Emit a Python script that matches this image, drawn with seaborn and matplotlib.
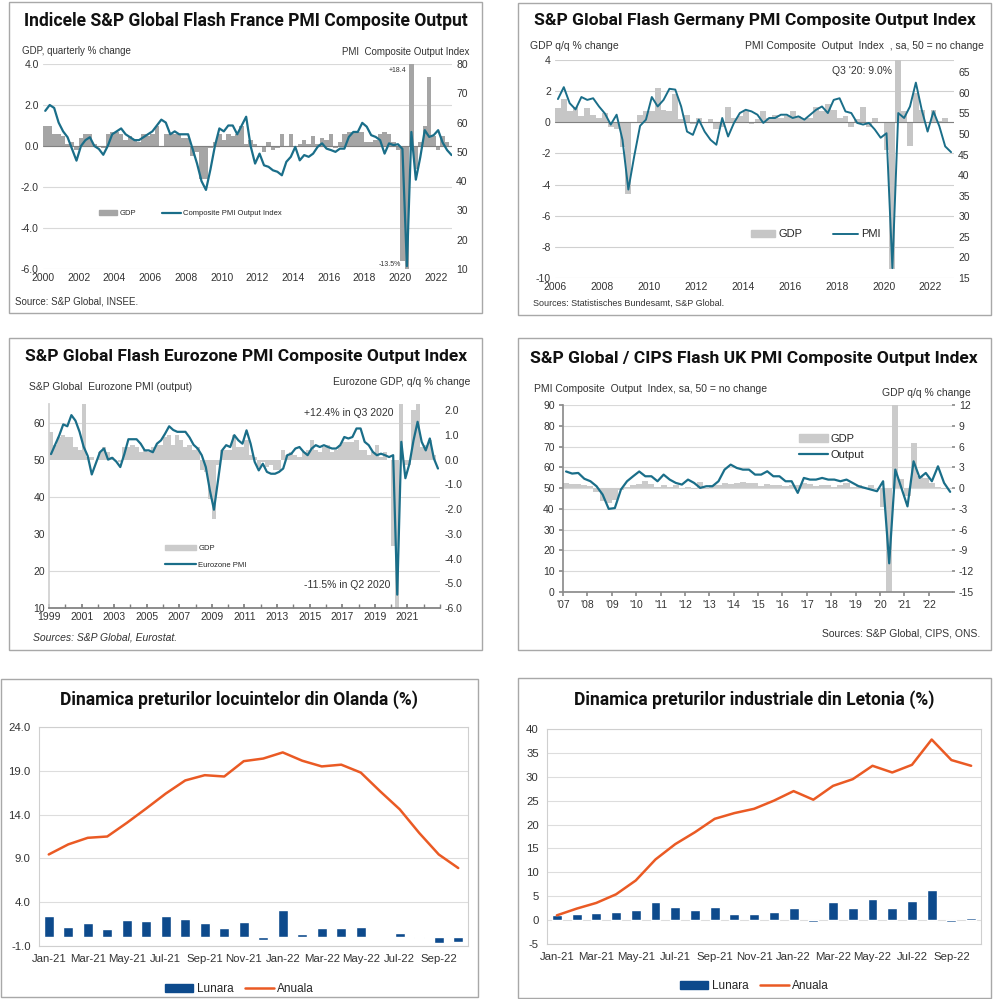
import matplotlib
matplotlib.use("Agg")

import numpy as np
import matplotlib.pyplot as plt
import seaborn as sns
from matplotlib.patches import Rectangle, Patch
from matplotlib.lines import Line2D
from matplotlib.ticker import FormatStrFormatter

# -----------------------------
# DATA
# -----------------------------
# France: quarterly GDP % change from 2000Q1, PMI composite sampled per quarter
FRA_GDP = [1.0, 1.0, 0.6, 0.6, 0.5, 0.1, 0.2, -0.2, 0.4, 0.6, 0.6, 0.1,
           0.0, -0.1, 0.6, 0.7, 0.7, 0.6, 0.3, 0.5, 0.3, 0.2, 0.6, 0.5,
           0.6, 1.0, 0.0, 0.6, 0.6, 0.6, 0.6, 0.4, 0.4, -0.5, -0.3, -1.6,
           -1.6, -0.1, 0.2, 0.6, 0.3, 0.6, 0.5, 0.6, 1.0, 0.1, 0.3, 0.1,
           0.0, -0.3, 0.2, -0.2, -0.1, 0.6, 0.0, 0.6, 0.0, 0.1, 0.3, 0.1,
           0.5, 0.1, 0.4, 0.3, 0.6, -0.1, 0.2, 0.6, 0.7, 0.7, 0.7, 0.7,
           0.2, 0.2, 0.3, 0.6, 0.7, 0.6, 0.2, -0.2, -5.6, -13.5, 18.4, -1.1,
           0.2, 1.0, 3.35, 0.5, -0.2, 0.5, 0.2]
FRA_PMI = [64, 66, 65, 60, 57, 55, 51, 47, 52, 54, 55, 52,
           51, 49, 52, 56, 57, 58, 56, 55, 54, 54, 55, 56,
           57, 59, 61, 60, 56, 57, 56, 56, 56, 51, 46, 40,
           37, 44, 52, 58, 57, 59, 59, 56, 59, 62, 52, 46,
           49.4, 45.4, 44.9, 43.7, 43.2, 42, 46.6, 48.3, 51.7, 47.1, 48.9, 48.3,
           49.4, 51.7, 52.9, 51.1, 50.6, 50, 51.1, 51.1, 55.1, 56.8, 56.8, 59.9,
           58.6, 55.7, 55.1, 54, 49.4, 52.9, 52.3, 52.6, 51, 11, 56.8, 40.5,
           48.2, 57.4, 55.1, 55.7, 57.4, 53.2, 50.6, 48.9]

# Germany from 2006Q1
DEU_GDP = [0.9, 1.5, 0.7, 1.0, 0.4, 0.9, 0.5, 0.3, 0.6, -0.3, -0.4, -1.6,
           -4.6, 0.0, 0.5, 0.7, 0.7, 2.2, 0.8, 0.7, 1.8, 0.2, 0.5, -0.1,
           0.3, 0.0, 0.2, -0.4, -0.3, 1.0, 0.3, 0.4, 0.8, -0.1, 0.2, 0.7,
           0.3, 0.5, 0.3, 0.4, 0.7, 0.4, 0.2, 0.3, 1.0, 0.7, 1.2, 0.8,
           0.3, 0.4, -0.3, 0.2, 1.0, -0.3, 0.3, 0.0, -1.8, -9.4, 9.0, 0.7,
           -1.5, 1.9, 0.8, 0.0, 0.8, 0.1, 0.3]
DEU_PMI = [58.5, 61.4, 57.5, 56, 59, 58.3, 58.7, 56.7, 55, 52.3, 54.7, 48.6,
           36.5, 44.6, 52, 53.5, 59, 56.7, 58.3, 61, 60.8, 56.7, 50.6, 49.8,
           53.5, 50.6, 48.6, 47.4, 53.9, 49.4, 52.7, 55.1, 55.9, 55.5, 54.7, 52.7,
           53.9, 53.9, 54.7, 54.7, 53.9, 54.3, 53.5, 54.7, 55.9, 56.7, 55.1, 58.3,
           58.7, 55.5, 55.1, 52.7, 52.3, 52.7, 51.1, 49.1, 50.2, 17.4, 55.1, 53.9,
           56.7, 62.5, 55.9, 50.6, 55.5, 51.9, 47, 45.6]

# Eurozone from 1999Q1
EZ_GDP = [1.1, 0.6, 0.9, 1.0, 0.9, 0.9, 0.5, 0.4, 2.3, 0.1, 0.1, 0.0,
          0.3, 0.5, 0.3, 0.1, 0.0, -0.1, 0.5, 0.5, 0.6, 0.5, 0.3, 0.4,
          0.3, 0.5, 0.6, 0.6, 0.9, 1.0, 0.6, 1.0, 0.8, 0.5, 0.6, 0.4,
          0.5, -0.4, -0.5, -1.6, -2.4, -0.2, 0.4, 0.4, 0.4, 1.0, 0.5, 0.5,
          0.8, 0.2, 0.1, -0.3, -0.1, -0.3, -0.2, -0.4, -0.4, 0.4, 0.2, 0.3,
          0.2, 0.1, 0.3, 0.4, 0.8, 0.4, 0.3, 0.5, 0.6, 0.3, 0.4, 0.6,
          0.7, 0.7, 0.7, 0.8, 0.4, 0.4, 0.2, 0.3, 0.6, 0.1, 0.3, 0.0,
          -3.5, -11.5, 12.4, -0.2, -0.2, 2.0, 2.3, 0.5, 0.6, 0.8, 0.2]
EZ_PMI = [51.5, 54, 56.5, 59.5, 59, 62, 60.5, 57.5, 53.5, 51, 46, 49,
          52, 53, 50, 50.5, 49.5, 48, 51.5, 55.5, 55.5, 55.5, 54.3, 52.5,
          52.5, 52, 54.3, 55.2, 57, 59, 58, 57.5, 57.5, 57.5, 56, 54,
          53, 51.2, 48, 41.7, 36.5, 44.4, 52.5, 53.9, 53.4, 56.6, 55.2, 54.3,
          57.9, 54.3, 49.4, 47.1, 48.9, 46.7, 46.2, 46.2, 46.7, 47.6, 51.2, 51.6,
          53, 53.4, 52.1, 51.2, 53, 53.9, 53.4, 53.9, 53.4, 53, 53, 53.9,
          56.1, 55.7, 56.1, 58.4, 58.4, 54.8, 53.9, 52.1, 51.2, 51.6, 51.2, 50.7,
          51.2, 13.6, 54.8, 45, 48.9, 55.2, 60.2, 54.8, 52.5, 55.7, 50.3, 47.6]

# UK from 2007Q1
UK_GDP = [0.8, 0.6, 0.6, 0.5, 0.3, -0.6, -1.8, -2.2, -1.7, -0.3, 0.1, 0.4,
          0.6, 1.0, 0.6, 0.1, 0.5, 0.2, 0.4, 0.0, 0.2, -0.2, 0.9, -0.2,
          0.5, 0.5, 0.8, 0.6, 0.7, 0.9, 0.7, 0.7, 0.3, 0.6, 0.4, 0.5,
          0.3, 0.5, 0.5, 0.7, 0.6, 0.3, 0.5, 0.4, 0.1, 0.4, 0.7, 0.2,
          0.5, -0.1, 0.5, 0.0, -2.7, -21.0, 16.9, 1.3, -1.2, 6.5, 1.7, 1.5,
          0.7, 0.1, -0.2]
UK_PMI = [58, 57, 57.3, 54.5, 53.3, 50.9, 46.9, 40, 40.4, 49.3, 53.3, 55.7,
          58, 55.7, 55.7, 53.3, 56.5, 54.1, 52.5, 51.7, 54.1, 52.5, 50.1, 50.9,
          50.9, 53.3, 58.9, 61.3, 59.7, 58.9, 58.9, 56.5, 56.5, 58.1, 55.7, 55.7,
          53.3, 53.3, 47.7, 54.9, 54.1, 54.1, 54.9, 54.1, 54.1, 53.3, 54.1, 52.5,
          50.9, 50.1, 49.3, 48.5, 53.3, 13.8, 58.9, 50.1, 41.2, 62.9, 54.9, 57.3,
          53.3, 60.5, 52.5, 48.2]

# Netherlands house prices / Latvia industrial prices, monthly Jan-21 .. Oct-22
MONTHS = ["Jan-21", "Feb-21", "Mar-21", "Apr-21", "May-21", "Jun-21", "Jul-21",
          "Aug-21", "Sep-21", "Oct-21", "Nov-21", "Dec-21", "Jan-22", "Feb-22",
          "Mar-22", "Apr-22", "May-22", "Jun-22", "Jul-22", "Aug-22", "Sep-22",
          "Oct-22"]
NLD_LUNARA = [2.45, 1.2, 1.6, 0.9, 2.0, 1.9, 2.4, 2.1, 1.6, 1.0, 1.75, -0.3,
              3.1, 0.4, 1.0, 1.1, 1.2, 0.05, 0.5, -0.05, -0.7, -0.5]
NLD_ANUALA = [9.45, 10.6, 11.35, 11.5, 13.05, 14.7, 16.4, 17.9, 18.5, 18.35,
              20.1, 20.4, 21.1, 20.15, 19.5, 19.7, 18.8, 16.65, 14.6, 11.9,
              9.45, 7.9]
LVA_LUNARA = [1.0, 1.2, 1.4, 1.6, 2.1, 3.8, 2.8, 2.2, 2.8, 1.2, 1.2, 1.6,
              2.5, -0.35, 3.8, 2.6, 4.4, 2.6, 4.0, 6.3, -0.4, 0.5]
LVA_ANUALA = [1.0, 2.4, 3.6, 5.4, 8.3, 12.7, 15.9, 18.4, 21.2, 22.4, 23.3,
              25.0, 27.0, 25.2, 28.1, 29.5, 32.3, 30.9, 32.5, 37.8, 33.5, 32.3]

# -----------------------------
# STYLE
# -----------------------------
sns.set_theme(style="white")
plt.rcParams["font.family"] = ["Liberation Sans", "DejaVu Sans"]
plt.rcParams["axes.unicode_minus"] = False
TITLE_FONT = ["Roboto", "Liberation Sans", "DejaVu Sans"]
TEAL = "#1a6e89"
NAVY = "#0d4a8c"
ORANGE = "#ea5a24"
TXT = "#333333"

W, H = 1000, 999
fig = plt.figure(figsize=(10, 9.99), dpi=100)
renderer = fig.canvas.get_renderer()


def make_axes(x0, y0, x1, y1):
    return fig.add_axes([x0 / W, 1 - y1 / H, (x1 - x0) / W, (y1 - y0) / H])


def ftext(x, y, s, **kw):
    kw.setdefault("color", TXT)
    kw.setdefault("va", "center")
    return fig.text(x / W, 1 - y / H, s, **kw)


def frame(x0, y0, x1, y1):
    fig.patches.append(Rectangle((x0 / W, 1 - y1 / H), (x1 - x0) / W, (y1 - y0) / H,
                                 transform=fig.transFigure, fill=False,
                                 ec="#a8a8a8", lw=1.0))


def title(x0, x1, y, s):
    # bold heading, sized so that it spans the same width as in the reference
    t = ftext((x0 + x1) / 2, y, s, ha="center", fontsize=14, fontweight="bold",
              family=TITLE_FONT, color="#111111")
    w = t.get_window_extent(renderer).width
    t.set_fontsize(14 * (x1 - x0) / w)


def qx(start, n):
    return start + (np.arange(n) + 0.5) / 4


def clean(ax):
    for sp in ax.spines.values():
        sp.set_visible(False)
    ax.tick_params(length=0, labelsize=7.5, labelcolor=TXT, pad=3)


def sides(gdp_ax, pmi_ax, gdp_right):
    if gdp_right:
        gdp_ax.yaxis.tick_right()
        pmi_ax.yaxis.tick_left()
    else:
        gdp_ax.yaxis.tick_left()
        pmi_ax.yaxis.tick_right()


# -----------------------------
# FRANCE
# -----------------------------
frame(9, 2, 482, 313)
title(23, 468, 21, "Indicele S&P Global Flash France PMI Composite Output")
ax = make_axes(43, 64, 452, 269)
ax.bar(qx(2000, len(FRA_GDP)), FRA_GDP, width=0.25, color="#a5a5a5", linewidth=0)
ax.set_ylim(-6, 4)
ax.set_yticks([-6, -4, -2, 0, 2, 4])
ax.yaxis.set_major_formatter(FormatStrFormatter("%.1f"))
ax.set_xlim(2000, 2022.9)
ax.set_xticks(range(2000, 2023, 2))
ax.grid(axis="y", color="#d9d9d9", lw=0.8)
ax.set_axisbelow(True)
ax.axhline(0, color="#808080", lw=0.8)
clean(ax)
tw = ax.twinx()
sns.lineplot(x=qx(2000, len(FRA_PMI)), y=FRA_PMI, ax=tw, color=TEAL, lw=1.6)
tw.set_ylim(10, 80)
tw.set_yticks(range(10, 81, 10))
clean(tw)
sides(ax, tw, False)
ftext(22, 51, "GDP, quarterly % change", fontsize=7)
ftext(469, 52, "PMI  Composite Output Index", fontsize=7, ha="right")
ftext(15, 301, "Source: S&P Global, INSEE.", fontsize=7)
ftext(406, 70, "+18.4", fontsize=5, ha="right")
ftext(401, 264, "-13.5%", fontsize=5, ha="right")
ax.legend(handles=[Patch(color="#a5a5a5", label="GDP"),
                   Line2D([], [], color=TEAL, lw=1.6, label="Composite PMI Output Index")],
          loc="center left", bbox_to_anchor=(0.12, 0.27), ncol=2, frameon=False,
          fontsize=5.5, handlelength=2.4, columnspacing=3.4, handletextpad=0.3)

# -----------------------------
# GERMANY
# -----------------------------
frame(518, 3, 991, 315)
title(533, 976, 20, "S&P Global Flash Germany PMI Composite Output Index")
ax = make_axes(555, 60, 954, 278)
ax.bar(qx(2006, len(DEU_GDP)), DEU_GDP, width=0.25, color="#c6c6c6", linewidth=0)
ax.set_ylim(-10, 4)
ax.set_yticks(range(-10, 5, 2))
ax.set_xlim(2006, 2023)
ax.set_xticks(range(2006, 2023, 2))
ax.grid(axis="y", color="#d0d0d0", lw=0.8)
ax.set_axisbelow(True)
ax.axhline(0, color="#808080", lw=0.8)
clean(ax)
tw = ax.twinx()
sns.lineplot(x=qx(2006, len(DEU_PMI)), y=DEU_PMI, ax=tw, color=TEAL, lw=1.4)
tw.set_ylim(15, 68)
tw.set_yticks(range(15, 66, 5))
clean(tw)
sides(ax, tw, False)
ftext(530, 46, "GDP q/q % change", fontsize=7.5)
ftext(984, 46, "PMI Composite  Output  Index  , sa, 50 = no change", fontsize=7.5, ha="right")
ftext(533, 303, "Sources: Statistisches Bundesamt, S&P Global.", fontsize=6.5)
ftext(892, 71, "Q3 '20: 9.0%", fontsize=7.5, ha="right")
ax.legend(handles=[Patch(color="#c6c6c6", label="GDP"),
                   Line2D([], [], color=TEAL, lw=1.4, label="PMI")],
          loc="center left", bbox_to_anchor=(0.465, 0.20), ncol=2, frameon=False,
          fontsize=8, handlelength=2.2, columnspacing=2.8, handletextpad=0.3)

# -----------------------------
# EUROZONE
# -----------------------------
frame(9, 338, 482, 650)
title(24, 468, 356, "S&P Global Flash Eurozone PMI Composite Output Index")
ax = make_axes(49, 404, 440, 608)
ax.bar(qx(1999, len(EZ_GDP)), EZ_GDP, width=0.25, color="#cbcbcb", linewidth=0)
ax.set_ylim(-6, 2.25)
ax.set_yticks(range(-6, 3))
ax.yaxis.set_major_formatter(FormatStrFormatter("%.1f"))
ax.set_xlim(1999, 2023)
ax.set_xticks(range(1999, 2023, 2))
ax.set_xticks(range(1999, 2024), minor=True)
clean(ax)
ax.spines["bottom"].set_visible(True)
ax.spines["bottom"].set_color("#7f7f7f")
ax.spines["left"].set_visible(True)
ax.spines["left"].set_color("#d0d0d0")
ax.tick_params(axis="x", which="both", direction="in", length=3, color="#7f7f7f", bottom=True)
tw = ax.twinx()
sns.lineplot(x=qx(1999, len(EZ_PMI)), y=EZ_PMI, ax=tw, color=TEAL, lw=1.6)
tw.set_ylim(10, 65)
tw.set_yticks(range(10, 61, 10))
clean(tw)
sides(ax, tw, True)
# gridlines at the PMI ticks, drawn under the bars
pmi_ticks = np.arange(20, 61, 10)
ax.set_yticks(-6 + (pmi_ticks - 10) * 8.25 / 55, minor=True)
ax.grid(axis="y", which="minor", color="#d9d9d9", lw=0.8)
ax.tick_params(axis="y", which="minor", length=0)
ax.set_axisbelow(True)
ftext(29, 387, "S&P Global  Eurozone PMI (output)", fontsize=7.5)
ftext(470, 382, "Eurozone GDP, q/q % change", fontsize=7.5, ha="right")
ftext(33, 637, "Sources: S&P Global, Eurostat.", fontsize=7.5, style="italic")
ftext(393, 413, "+12.4% in Q3 2020", fontsize=7.5, ha="right")
ftext(390, 585, "-11.5% in Q2 2020", fontsize=7.5, ha="right")
ax.legend(handles=[Patch(color="#cbcbcb", label="GDP"),
                   Line2D([], [], color=TEAL, lw=1.6, label="Eurozone PMI")],
          loc="center left", bbox_to_anchor=(0.28, 0.25), ncol=1, frameon=False,
          fontsize=5.5, handlelength=4, handletextpad=0.3, labelspacing=1.2)

# -----------------------------
# UK
# -----------------------------
frame(518, 338, 991, 650)
title(530, 978, 359, "S&P Global / CIPS Flash UK PMI Composite Output Index")
ax = make_axes(563, 405, 952, 592)
ax.bar(qx(2007, len(UK_GDP)), UK_GDP, width=0.25, color="#cbcbcb", linewidth=0)
ax.set_ylim(-15, 12)
ax.set_yticks(range(-15, 13, 3))
ax.set_xlim(2007, 2022.95)
ax.set_xticks(range(2007, 2023))
ax.set_xticklabels(["'%02d" % (y % 100) for y in range(2007, 2023)])
ax.grid(axis="y", color="#d9d9d9", lw=0.8)
ax.set_axisbelow(True)
clean(ax)
for s in ("bottom", "left"):
    ax.spines[s].set_visible(True)
    ax.spines[s].set_color("#8c8c8c")
ax.tick_params(axis="x", direction="out", length=3, color="#8c8c8c", bottom=True)
tw = ax.twinx()
sns.lineplot(x=qx(2007, len(UK_PMI)), y=UK_PMI, ax=tw, color=TEAL, lw=1.6)
tw.set_ylim(0, 90)
tw.set_yticks(range(0, 91, 10))
clean(tw)
sides(ax, tw, True)
ax.tick_params(axis="y", direction="out", length=2, color="#8c8c8c")
tw.tick_params(axis="y", direction="out", length=3, color="#8c8c8c")
ftext(534, 389, "PMI Composite  Output  Index, sa, 50 = no change", fontsize=7.5)
ftext(971, 393, "GDP q/q % change", fontsize=7.5, ha="right")
ftext(980, 633, "Sources: S&P Global, CIPS, ONS.", fontsize=7.5, ha="right")
ax.legend(handles=[Patch(color="#cbcbcb", label="GDP"),
                   Line2D([], [], color=TEAL, lw=1.6, label="Output")],
          loc="upper left", bbox_to_anchor=(0.58, 0.9), ncol=1, frameon=False,
          fontsize=8, handlelength=2.6, handletextpad=0.3, labelspacing=0.6)


# -----------------------------
# BOTTOM PANELS
# -----------------------------
def price_panel(box, plot, tx, name, lunara, anuala, ylim, yticks, fmt, leg_y):
    frame(*box)
    title(tx[0], tx[1], 700, name)
    ax = make_axes(*plot)
    pos = np.arange(len(MONTHS))
    sns.barplot(x=pos, y=lunara, ax=ax, color=NAVY, width=0.5, saturation=1,
                native_scale=True)
    sns.lineplot(x=pos, y=anuala, ax=ax, color=ORANGE, lw=1.8)
    ax.set_xlim(-0.5, len(MONTHS) - 0.5)
    ax.set_ylim(*ylim)
    ax.set_yticks(yticks)
    ax.yaxis.set_major_formatter(FormatStrFormatter(fmt))
    ax.set_xticks(pos[::2])
    ax.set_xticklabels(MONTHS[::2])
    ax.grid(axis="y", color="#dddddd", lw=0.8)
    ax.set_axisbelow(True)
    for sp in ax.spines.values():
        sp.set_color("#cfcfcf")
        sp.set_linewidth(0.8)
    ax.tick_params(length=0, labelsize=8.2, labelcolor=TXT, pad=6)
    ax.set_xlabel("")
    ax.set_ylabel("")
    fig.legend(handles=[Patch(color=NAVY, label="Lunara"),
                        Line2D([], [], color=ORANGE, lw=1.8, label="Anuala")],
               loc="center", bbox_to_anchor=((box[0] + box[2]) / 2 / W, 1 - leg_y / H),
               ncol=2, frameon=False, fontsize=8.5, handlelength=2.4,
               handletextpad=0.3, columnspacing=1.0)


price_panel((1, 679, 478, 997), (39, 727, 468, 946), (60, 419),
            "Dinamica preturilor locuintelor din Olanda (%)",
            NLD_LUNARA, NLD_ANUALA, (-1, 24), [-1, 4, 9, 14, 19, 24], "%.1f", 989)
price_panel((518, 678, 991, 998), (547, 729, 981, 944), (573, 935),
            "Dinamica preturilor industriale din Letonia (%)",
            LVA_LUNARA, LVA_ANUALA, (-5, 40), range(-5, 41, 5), "%d", 986)

fig.savefig("out.png", dpi=100, facecolor="white")
plt.close(fig)
